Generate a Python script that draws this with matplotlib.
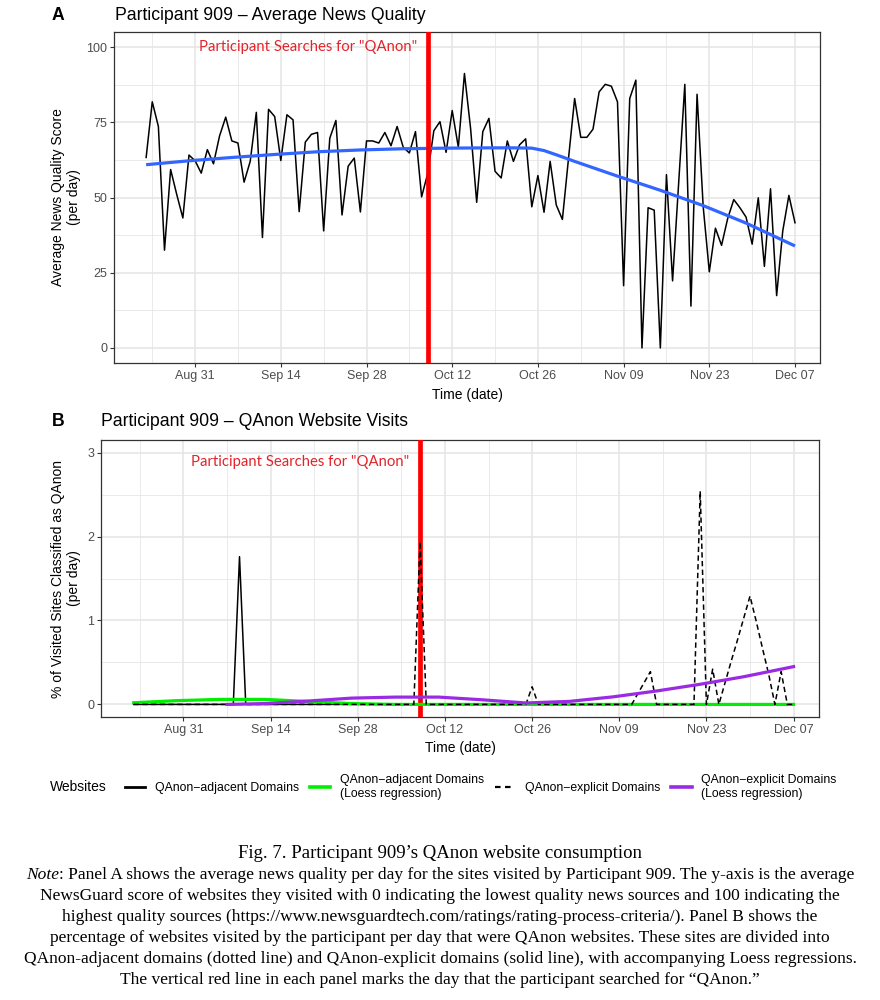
import numpy as np
import pandas as pd
import matplotlib
matplotlib.use('Agg')
import matplotlib.pyplot as plt
import matplotlib.dates as mdates
from matplotlib.lines import Line2D
from matplotlib.ticker import MultipleLocator

plt.rcParams['font.family'] = ['Liberation Sans', 'DejaVu Sans']

# one value per day, Aug 23 - Dec 07 2020
days = pd.date_range('2020-08-23', '2020-12-07', freq='D').to_numpy()
search_day = np.datetime64('2020-10-08')

news_quality = [
    63.3, 81.8, 73.6, 32.5, 59.3, 51.0, 43.2,
    64.1, 62.2, 58.1, 65.9, 61.2, 70.5, 76.7,
    68.8, 68.1, 55.1, 62.0, 78.3, 36.7, 79.3,
    76.9, 62.3, 77.5, 75.8, 45.3, 68.4, 71.0,
    71.6, 38.9, 69.7, 75.6, 44.2, 60.4, 63.1,
    45.2, 68.8, 68.8, 68.1, 71.6, 67.2, 73.6,
    66.7, 64.8, 71.9, 50.2, 58.0, 72.2, 75.2,
    65.0, 78.9, 66.7, 91.2, 73.0, 48.4, 71.9,
    76.3, 58.7, 56.5, 68.8, 62.0, 67.5, 69.5,
    46.9, 57.3, 45.1, 62.0, 47.5, 42.7, 63.0,
    82.9, 70.0, 70.0, 72.7, 85.1, 87.6, 87.0,
    81.8, 20.7, 82.9, 89.0, 0.0, 46.6, 45.8,
    0.0, 57.6, 22.3, 55.0, 87.6, 13.9, 84.3,
    47.0, 25.3, 39.8, 34.1, 43.0, 49.3, 46.6,
    43.5, 34.5, 49.9, 27.1, 52.9, 17.4, 38.9,
    50.7, 41.6]

# loess curve of news quality, read at these day offsets
quality_loess_day = [0, 7, 14, 21, 28, 35, 42, 49, 56, 60, 63, 65, 67, 70, 77, 84, 91, 98, 106]
quality_loess = [60.9, 62.2, 63.3, 64.3, 65.2, 65.8, 66.2, 66.4, 66.5, 66.5, 66.4, 65.6, 64.2,
                 62.0, 57.1, 52.4, 47.3, 41.5, 33.9]

adjacent_pct = [
    0, 0, 0, 0, 0, 0, 0,
    0, 0, 0, 0, 0, 0, 0,
    0, 0, 0, 1.76, 0, 0, 0,
    0, 0, 0, 0, 0, 0, 0,
    0, 0, 0, 0, 0, 0, 0,
    0, 0, 0, 0, 0, 0, 0,
    0, 0, 0, 0, 0, 0, 0,
    0, 0, 0, 0, 0, 0, 0,
    0, 0, 0, 0, 0, 0, 0,
    0, 0, 0, 0, 0, 0, 0,
    0, 0, 0, 0, 0, 0, 0,
    0, 0, 0, 0, 0, 0, 0,
    0, 0, 0, 0, 0, 0, 0,
    0, 0, 0, 0, 0, 0, 0,
    0, 0, 0, 0, 0, 0, 0,
    0, 0]

explicit_pct = [
    0, 0, 0, 0, 0, 0, 0,
    0, 0, 0, 0, 0, 0, 0,
    0, 0, 0, 0, 0, 0, 0,
    0, 0, 0, 0, 0, 0, 0,
    0, 0, 0, 0, 0, 0, 0,
    0, 0, 0, 0, 0, 0, 0,
    0, 0, 0, 0, 1.94, 0, 0,
    0, 0, 0, 0, 0, 0, 0,
    0, 0, 0, 0, 0, 0, 0,
    0, 0.21, 0, 0, 0, 0, 0,
    0, 0, 0, 0, 0, 0, 0,
    0, 0, 0, 0, 0.13, 0.26, 0.39,
    0, 0, 0, 0, 0, 0, 0,
    2.54, 0, 0.42, 0, 0.26, 0.52, 0.77,
    1.03, 1.29, 0.99, 0.67, 0.36, 0, 0.39,
    0, 0]

adjacent_loess_day = [0, 7, 14, 21, 28, 35, 42, 56, 70, 84, 98, 106]
adjacent_loess = [0.02, 0.045, 0.06, 0.06, 0.035, 0.01, 0.0, 0.0, 0.0, 0.0, 0.0, 0.0]

explicit_loess_day = [15, 21, 28, 35, 42, 49, 56, 63, 70, 77, 84, 91, 98, 106]
explicit_loess = [0.0, 0.01, 0.04, 0.075, 0.087, 0.087, 0.055, 0.017, 0.036, 0.09, 0.16, 0.24, 0.33, 0.45]

legend_labels = ['QAnon\u2212adjacent Domains', 'QAnon\u2212adjacent Domains\n(Loess regression)',
                 'QAnon\u2212explicit Domains', 'QAnon\u2212explicit Domains\n(Loess regression)']

caption_title = 'Fig. 7. Participant 909\u2019s QAnon website consumption'
caption_lines = [
    ': Panel A shows the average news quality per day for the sites visited by Participant 909. The y-axis is the average',
    'NewsGuard score of websites they visited with 0 indicating the lowest quality news sources and 100 indicating the',
    'highest quality sources (https://www.newsguardtech.com/ratings/rating-process-criteria/). Panel B shows the',
    'percentage of websites visited by the participant per day that were QAnon websites. These sites are divided into',
    'QAnon-adjacent domains (dotted line) and QAnon-explicit domains (solid line), with accompanying Loess regressions.',
    'The vertical red line in each panel marks the day that the participant searched for \u201cQAnon.\u201d']

RED = '#ff0000'
RED_TXT = '#e3242b'
GRID = '#e6e6e6'
DARK = '#333333'
W, H = 880, 1000


def px_axes(fig, left, top, right, bottom):
    return fig.add_axes([left / W, 1 - bottom / H, (right - left) / W, (bottom - top) / H])


def style_axes(ax):
    ax.set_xlim(days[0] - np.timedelta64(126, 'h'), days[-1] + np.timedelta64(98, 'h'))
    ax.set_xticks(pd.date_range('2020-08-31', '2020-12-07', freq='14D').to_numpy())
    ax.set_xticks(pd.date_range('2020-08-24', '2020-12-07', freq='14D').to_numpy(), minor=True)
    ax.xaxis.set_major_formatter(mdates.DateFormatter('%b %d'))
    ax.set_axisbelow(True)
    ax.grid(which='major', color=GRID, lw=1.2)
    ax.grid(which='minor', color=GRID, lw=0.6)
    for sp in ax.spines.values():
        sp.set_color(DARK)
        sp.set_linewidth(0.9)
    ax.tick_params(which='major', length=3, width=0.8, color=DARK, labelcolor='#4d4d4d',
                   labelsize=9, pad=2)
    ax.tick_params(which='minor', length=0)
    ax.set_xlabel('Time (date)', fontsize=10)


fig = plt.figure(figsize=(W / 100, H / 100), dpi=100)

# Panel A
axA = px_axes(fig, 114, 32, 820, 363)
style_axes(axA)
axA.set_ylim(-5, 105)
axA.yaxis.set_major_locator(MultipleLocator(25))
axA.yaxis.set_minor_locator(MultipleLocator(12.5))
axA.plot(days, news_quality, color='black', lw=1.1, zorder=3)
axA.plot(days[quality_loess_day], quality_loess, color='#3366ff', lw=2.3, zorder=4,
         solid_capstyle='butt')
axA.axvline(search_day, color=RED, lw=3.4, zorder=5)
axA.text(mdates.date2num(search_day) - 1.7, 100, 'Participant Searches for "QAnon"', ha='right',
         va='center', color=RED_TXT, fontsize=10.7, family=['Lato', 'DejaVu Sans'])
axA.set_ylabel('Average News Quality Score\n(per day)', fontsize=10)
axA.yaxis.set_label_coords(-0.047, 0.5)
axA.xaxis.set_label_coords(0.5, -0.075)

# Panel B
axB = px_axes(fig, 101, 440, 819, 717)
style_axes(axB)
axB.set_ylim(-0.15, 3.15)
axB.yaxis.set_major_locator(MultipleLocator(1))
axB.yaxis.set_minor_locator(MultipleLocator(0.5))
axB.axvline(search_day, color=RED, lw=3.4, zorder=3.2)
axB.plot(days, adjacent_pct, color='black', lw=1.1, zorder=3)
axB.plot(days[adjacent_loess_day], adjacent_loess, color='#00ee00', lw=2.3, zorder=3.5)
axB.plot(days, explicit_pct, color='black', lw=1.1, dashes=(3.5, 2.2), zorder=4)
axB.plot(days[explicit_loess_day], explicit_loess, color='#9a2be2', lw=2.3, zorder=4.5)
axB.text(mdates.date2num(search_day) - 1.7, 2.89, 'Participant Searches for "QAnon"', ha='right',
         va='center', color=RED_TXT, fontsize=10.7, family=['Lato', 'DejaVu Sans'])
axB.set_ylabel('% of Visited Sites Classified as QAnon\n(per day)', fontsize=10)
axB.yaxis.set_label_coords(-0.028, 0.5)
axB.xaxis.set_label_coords(0.5, -0.088)

# panel titles
fig.text(58 / W, 1 - 15 / H, 'A', fontsize=12.7, fontweight='bold', ha='center', va='center')
fig.text(115 / W, 1 - 15 / H, 'Participant 909 \u2013 Average News Quality', fontsize=12.7,
         ha='left', va='center')
fig.text(58 / W, 1 - 422 / H, 'B', fontsize=12.7, fontweight='bold', ha='center', va='center')
fig.text(101 / W, 1 - 422 / H, 'Participant 909 \u2013 QAnon Website Visits', fontsize=12.7,
         ha='left', va='center')

# legend
handles = [Line2D([], [], color='black', lw=2.0),
           Line2D([], [], color='#00ee00', lw=2.6),
           Line2D([], [], color='black', lw=1.6, dashes=(2.5, 2.0)),
           Line2D([], [], color='#9a2be2', lw=2.6)]
fig.text(50 / W, 1 - 787 / H, 'Websites', fontsize=10, ha='left', va='center')
fig.legend(handles, legend_labels, ncol=4, loc='center left', bbox_to_anchor=(125 / W, 1 - 787 / H),
           frameon=False, fontsize=8.8, handlelength=1.65, handletextpad=0.8, columnspacing=0.9,
           borderpad=0, borderaxespad=0)

# caption
serif = ['Liberation Serif', 'DejaVu Serif']
fig.text(0.5, 1 - 853 / H, caption_title, fontsize=13.5, family=serif, ha='center', va='center')
renderer = fig.canvas.get_renderer()
line_y = [875, 896, 917, 938, 959, 980]
body_size = 12.5
note = fig.text(0, 1 - line_y[0] / H, 'Note', fontsize=body_size, family=serif, style='italic',
                ha='left', va='center')
rest = fig.text(0, 1 - line_y[0] / H, caption_lines[0], fontsize=body_size, family=serif,
                ha='left', va='center')
w_note = note.get_window_extent(renderer).width
w_rest = rest.get_window_extent(renderer).width
x0 = (W - w_note - w_rest) / 2
note.set_x(x0 / W)
rest.set_x((x0 + w_note) / W)
for yy, line in zip(line_y[1:], caption_lines[1:]):
    fig.text(0.5, 1 - yy / H, line, fontsize=body_size, family=serif, ha='center', va='center')

fig.savefig('out.png', dpi=100)
